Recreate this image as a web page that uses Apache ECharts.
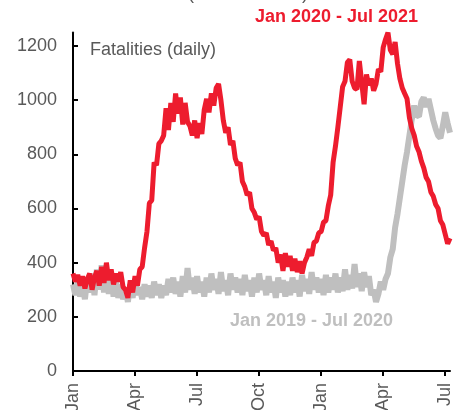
<!DOCTYPE html>
<html>
<head>
<meta charset="utf-8">
<script src="https://cdn.jsdelivr.net/npm/echarts@6/dist/echarts.min.js"></script>
<style>
  html, body { margin: 0; padding: 0; background: #fff; }
  #chart { width: 460px; height: 410px; }
</style>
</head>
<body>
<div id="chart"></div>
<script>
// about 3.5 days per point, 26 points per quarter, Jan 2020 .. Jul 2021
var perQuarter = 26;
var tickLabels = ["Jan", "Apr", "Jul", "Oct", "Jan", "Apr", "Jul"];

// Jan 2020 - Jul 2021 (red)
var fatal2020 = [
  360, 330, 355, 315, 350, 305, 340, 360, 300, 345, 370, 315, 385, 325, 400, 335,
  375, 320, 360, 330, 365, 310, 300, 270, 335, 290, 350, 315, 375, 385, 455, 515,
  620, 630, 770, 760, 840, 850, 870, 970, 890, 990, 920, 1025, 950, 1010, 910, 990,
  920, 905, 870, 925, 860, 915, 875, 965, 1005, 955, 1025, 980, 1045, 1060, 1000, 925,
  880, 900, 835, 850, 785, 760, 770, 700, 680, 650, 660, 600, 585, 560, 570, 515,
  500, 510, 465, 480, 445, 455, 400, 430, 370, 435, 385, 425, 370, 415, 365, 405,
  360, 400, 420, 450, 425, 475, 480, 510, 515, 550, 555, 610, 650, 770, 830, 900,
  975, 1050, 1070, 1140, 1150, 1070, 1045, 1040, 1145, 1065, 985, 1095, 1055, 1080, 1035, 1060,
  1115, 1105, 1195, 1225, 1250, 1185, 1170, 1215, 1135, 1080, 1045, 1025, 1005, 935, 895, 870,
  830, 810, 775, 750, 715, 700, 660, 645, 615, 600, 555, 540, 505, 470, 490
];

// Jan 2019 - Jul 2020 (grey)
var fatal2019 = [
  320, 280, 330, 275, 310, 265, 345, 290, 360, 280, 375, 300, 390, 290, 360, 285,
  350, 275, 330, 270, 320, 265, 305, 255, 320, 270, 340, 280, 310, 265, 320, 275,
  315, 270, 330, 280, 320, 270, 315, 280, 340, 290, 345, 285, 330, 275, 350, 290,
  380, 300, 345, 285, 350, 290, 330, 275, 345, 290, 360, 300, 340, 285, 365, 295,
  335, 280, 360, 300, 345, 290, 340, 280, 355, 295, 335, 275, 345, 290, 360, 300,
  335, 280, 350, 290, 330, 270, 345, 290, 335, 275, 330, 280, 345, 290, 335, 275,
  355, 295, 340, 285, 365, 300, 345, 290, 340, 280, 355, 290, 345, 300, 360, 290,
  345, 295, 375, 300, 355, 305, 395, 310, 360, 295, 365, 310, 350, 280, 300, 255,
  285, 330, 300, 340, 360, 420, 450, 530, 580, 640, 700, 760, 810, 870, 930, 980,
  945, 940, 995, 1010, 975, 1005, 965, 925, 895, 870, 860, 905, 955, 915, 880
];

var cats = fatal2020.map(function (v, i) { return "p" + i; });

var chart = echarts.init(document.getElementById("chart"));
var option = {
  animation: false,
  grid: { left: 73, right: 10, top: 32.5, bottom: 39, outerBoundsMode: "none", containLabel: false },
  xAxis: {
    type: "category",
    data: cats,
    boundaryGap: false,
    axisLine: { lineStyle: { color: "#000", width: 2 } },
    axisTick: {
      show: true,
      length: 5,
      lineStyle: { color: "#000", width: 2 },
      interval: function (i) { return i % perQuarter === 0; }
    },
    axisLabel: {
      rotate: 90,
      margin: 12,
      color: "#595959",
      fontSize: 18,
      fontFamily: "Liberation Sans",
      interval: function (i) { return i % perQuarter === 0; },
      formatter: function (v, i) { return tickLabels[i / perQuarter] || ""; }
    },
    splitLine: { show: false }
  },
  yAxis: {
    type: "value",
    min: 0,
    max: 1250,
    interval: 200,
    axisLine: { show: true, lineStyle: { color: "#000", width: 2 } },
    axisTick: { show: true, inside: true, length: 5, lineStyle: { color: "#000", width: 2 } },
    axisLabel: {
      color: "#595959",
      fontSize: 18,
      fontFamily: "Liberation Sans",
      margin: 16,
      showMaxLabel: false,
      formatter: function (v) { return String(v); }
    },
    splitLine: { show: false }
  },
  graphic: [
    { type: "text", left: 188, top: -15,
      style: { text: "(2020 vs 2019)", fill: "#595959", font: "18px Liberation Sans" } },
    { type: "text", left: 90, top: 41,
      style: { text: "Fatalities (daily)", fill: "#595959", font: "18px Liberation Sans" } },
    { type: "text", left: 255, top: 8,
      style: { text: "Jan 2020 - Jul 2021", fill: "#ED1C2E", font: "bold 18px Liberation Sans" } },
    { type: "text", left: 230, top: 312,
      style: { text: "Jan 2019 - Jul 2020", fill: "#BFBFBF", font: "bold 18px Liberation Sans" } }
  ],
  series: [
    {
      name: "Jan 2019 - Jul 2020",
      type: "line",
      data: fatal2019,
      showSymbol: false,
      lineStyle: { color: "#BFBFBF", width: 6 },
      itemStyle: { color: "#BFBFBF" }
    },
    {
      name: "Jan 2020 - Jul 2021",
      type: "line",
      data: fatal2020,
      showSymbol: false,
      lineStyle: { color: "#ED1C2E", width: 5 },
      itemStyle: { color: "#ED1C2E" }
    }
  ]
};
chart.setOption(option);
</script>
</body>
</html>
